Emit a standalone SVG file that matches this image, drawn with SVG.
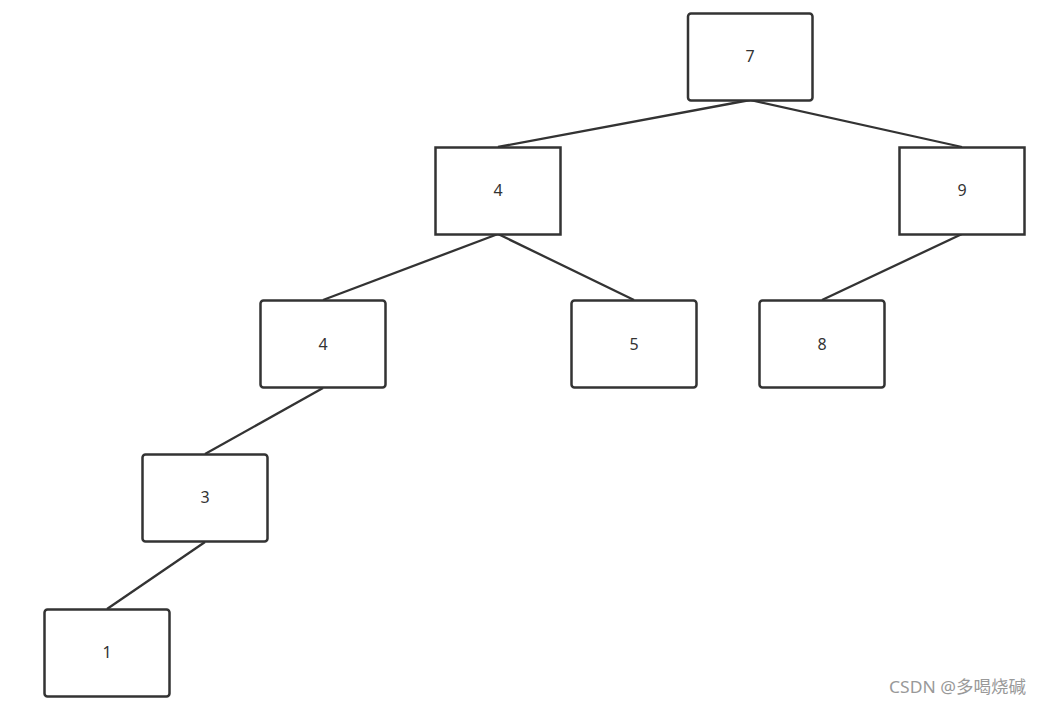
<svg xmlns="http://www.w3.org/2000/svg" width="1041" height="705" viewBox="0 0 1041 705">
<style>
.box{fill:#fff;stroke:#333;stroke-width:2.5}
.lbl{font-family:"Noto Sans","Liberation Sans",sans-serif;font-size:16px;fill:#333;text-anchor:middle;dominant-baseline:central}
.edge{stroke:#333;stroke-width:2.3;fill:none}
.wm{font-family:"Noto Sans","Liberation Sans","Noto Sans CJK SC",sans-serif;font-size:17px;fill:#999}
</style>
<rect width="1041" height="705" fill="#fff"/>
<g id="connectors">
<line class="edge" x1="750" y1="100" x2="498" y2="147"/>
<line class="edge" x1="750" y1="100" x2="962" y2="147"/>
<line class="edge" x1="498" y1="234" x2="323" y2="300"/>
<line class="edge" x1="498" y1="234" x2="634" y2="300"/>
<line class="edge" x1="962" y1="234" x2="822" y2="300"/>
<line class="edge" x1="323" y1="388" x2="205" y2="454"/>
<line class="edge" x1="205" y1="542" x2="107" y2="609"/>
</g>
<g id="n7"><rect class="box" x="688" y="13.5" width="124.5" height="87" rx="3"/><text class="lbl" x="750" y="56">7</text></g>
<g id="n4a"><rect class="box" x="435.5" y="147.5" width="125" height="87"/><text class="lbl" x="498" y="190">4</text></g>
<g id="n9"><rect class="box" x="899.5" y="147.5" width="125" height="87"/><text class="lbl" x="962" y="190">9</text></g>
<g id="n4b"><rect class="box" x="260.5" y="300.5" width="125" height="87" rx="3"/><text class="lbl" x="323" y="344">4</text></g>
<g id="n5"><rect class="box" x="571.5" y="300.5" width="125" height="87" rx="3"/><text class="lbl" x="634" y="344">5</text></g>
<g id="n8"><rect class="box" x="759.5" y="300.5" width="125" height="87" rx="3"/><text class="lbl" x="822" y="344">8</text></g>
<g id="n3"><rect class="box" x="142.5" y="454.5" width="125" height="87" rx="3"/><text class="lbl" x="205" y="497">3</text></g>
<g id="n1"><rect class="box" x="44.5" y="609.5" width="125" height="87" rx="3"/><text class="lbl" x="107" y="652">1</text></g>
<text class="wm" x="889" y="693" textLength="137" lengthAdjust="spacingAndGlyphs">CSDN @多喝烧碱</text>
</svg>
